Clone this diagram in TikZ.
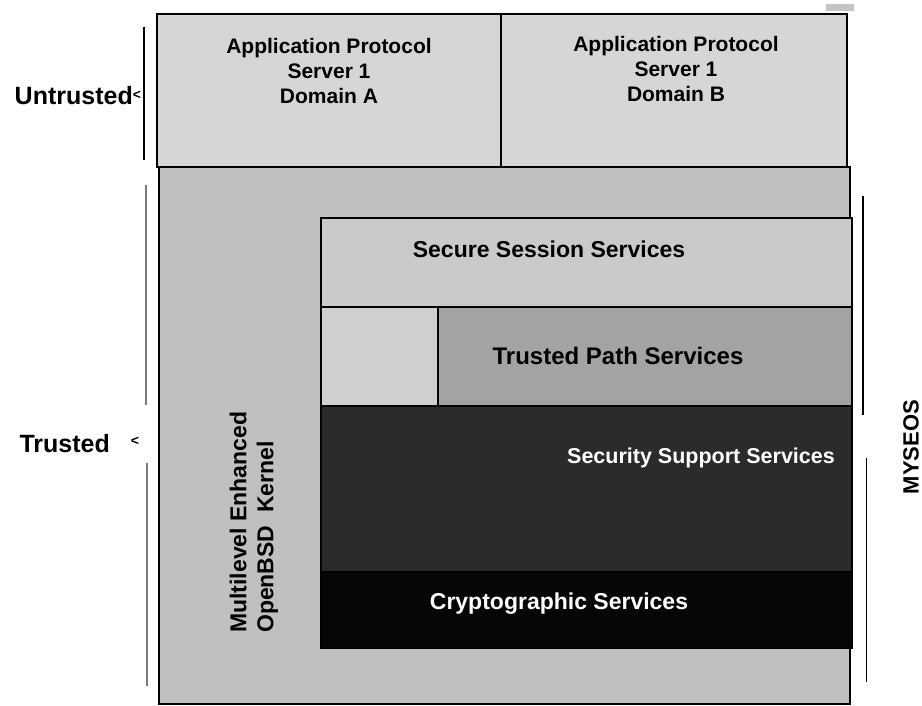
\documentclass[tikz,border=0pt]{standalone}
\usepackage{fontspec}
\setmainfont{Liberation Sans}
\definecolor{topgrey}{HTML}{D6D6D6}
\definecolor{trustgrey}{HTML}{C0C0C0}
\definecolor{sessgrey}{HTML}{CACACA}
\definecolor{pathlight}{HTML}{CFCFCF}
\definecolor{pathdark}{HTML}{A3A3A3}
\definecolor{supportdark}{HTML}{2B2B2B}
\definecolor{cryptoblack}{HTML}{060606}
\definecolor{bargrey}{HTML}{C4C4C4}
\definecolor{brkgrey}{HTML}{7A7A7A}
\begin{document}
\begin{tikzpicture}[x=1pt,y=-1pt,
  box/.style={draw=black,line width=1.2pt,rectangle,anchor=north west,inner sep=0pt,outer sep=0pt},
  lbl/.style={font=\bfseries\fontsize{21}{25}\selectfont,align=center,inner sep=0pt},
  biglbl/.style={font=\bfseries\fontsize{23}{27}\selectfont,align=center,inner sep=0pt},
  sidelbl/.style={font=\bfseries\fontsize{25}{30}\selectfont,inner sep=0pt},
  chev/.style={font=\bfseries\fontsize{14}{16}\selectfont,inner sep=0pt},
  brk/.style={line width=1.4pt}]
\useasboundingbox (0,0) rectangle (922,706);
\fill[white] (0,0) rectangle (922,706);
% scan artefact bar
\fill[bargrey] (826,4) rectangle (854,11);
% top boxes
\node[box,fill=topgrey,minimum width=344pt,minimum height=153pt] (appA) at (157,14) {};
\node[box,fill=topgrey,minimum width=346pt,minimum height=153pt] (appB) at (501,14) {};
% trusted outer
\node[box,fill=trustgrey,minimum width=691pt,minimum height=537pt] (trusted) at (159,167) {};
% inner layers
\node[box,fill=sessgrey,minimum width=531pt,minimum height=89pt] (session) at (321,218) {};
\node[box,fill=pathlight,minimum width=117pt,minimum height=99pt] (pathL) at (321,307) {};
\node[box,fill=pathdark,minimum width=414pt,minimum height=99pt] (pathR) at (438,307) {};
\node[box,fill=supportdark,minimum width=531pt,minimum height=166pt] (support) at (321,406) {};
\node[box,fill=cryptoblack,minimum width=531pt,minimum height=76pt] (crypto) at (321,572) {};
% texts
\node[lbl] (tA) at (329,71) {Application Protocol\\Server 1\\Domain A};
\node[lbl] (tB) at (676,69) {Application Protocol\\Server 1\\Domain B};
\node[biglbl] (tSess) at (549,249) {Secure Session Services};
\node[biglbl,font=\bfseries\fontsize{24}{28}\selectfont] (tPath) at (618,356) {Trusted Path Services};
\node[lbl,font=\bfseries\fontsize{21.5}{25}\selectfont,text=white] (tSupp) at (701,458) {Security Support Services};
\node[biglbl,text=white] (tCrypt) at (559,604) {Cryptographic Services};
\node[font=\bfseries\fontsize{23}{27}\selectfont,align=left,inner sep=0pt,rotate=90,anchor=west] (tKern) at (254,633) {Multilevel Enhanced\\OpenBSD\ \ Kernel};
\node[font=\bfseries\fontsize{22}{26}\selectfont,inner sep=0pt,rotate=90] (tMys) at (911,447) {MYSEOS};
% side labels
\node[sidelbl,anchor=east] (tUn) at (133,96) {Untrusted};
\node[chev] (cUn) at (137,95) {<};
\node[sidelbl,anchor=east] (tTr) at (110,444) {Trusted};
\node[chev] (cTr) at (135,441) {<};
% brackets
\coordinate (u1) at (144,27); \coordinate (u2) at (144,160);
\draw[brk] (u1) -- (u2);
\coordinate (t1) at (146,185); \coordinate (t2) at (146,405);
\coordinate (t3) at (147,463); \coordinate (t4) at (147,686);
\draw[brk,brkgrey] (t1) -- (t2);
\draw[brk,brkgrey] (t3) -- (t4);
\coordinate (m1) at (863,196); \coordinate (m2) at (863,415);
\coordinate (m3) at (866,458); \coordinate (m4) at (866,682);
\draw[line width=1.8pt] (m1) -- (m2);
\draw[line width=0.9pt] (m3) -- (m4);
\end{tikzpicture}
\end{document}
